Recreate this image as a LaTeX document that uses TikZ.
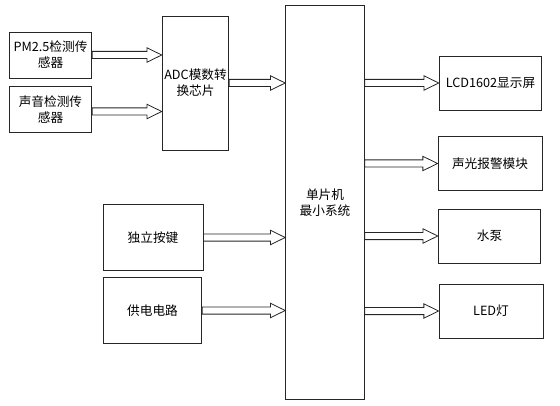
\documentclass[tikz,border=0pt]{standalone}
\usepackage{fontspec}
\setmainfont{Noto Sans CJK SC}
\usetikzlibrary{calc}
\begin{document}
\begin{tikzpicture}
[x=0.75pt,y=-0.75pt,
 box/.style={rectangle,draw=black!85,line width=0.7pt,inner sep=1pt,align=center,font=\fontsize{9.5pt}{12pt}\selectfont},
 blockarrow/.style={draw=black!85,line width=0.6pt,
   to path={let \p1=(\tikztostart), \p2=(\tikztotarget) in
     (\x1,\y1+2.7pt) -- (\x2-11pt,\y1+2.7pt) -- (\x2-11pt,\y1+5.4pt) -- (\x2,\y1)
     -- (\x2-11pt,\y1-5.4pt) -- (\x2-11pt,\y1-2.7pt) -- (\x1,\y1-2.7pt) -- cycle}}]
\useasboundingbox (0,0) rectangle (560,406);
% inputs
\node[box, minimum width=62pt, minimum height=34.5pt] (pm) at (50.5,55) {PM2.5检测传\\感器};
\node[box, minimum width=62pt, minimum height=35pt] (sound) at (50.5,109.5) {声音检测传\\感器};
\node[box, minimum width=50pt, minimum height=100.5pt] (adc) at (195.5,83) {ADC模数转\\换芯片};
\node[box, minimum width=75pt, minimum height=49pt] (key) at (153,237.5) {独立按键};
\node[box, minimum width=74pt, minimum height=49pt] (power) at (152.5,310.5) {供电电路};
% controller
\node[box, minimum width=59pt, minimum height=296pt] (mcu) at (325,202.5) {单片机\\最小系统};
% outputs
\node[box, minimum width=77pt, minimum height=40.5pt] (lcd) at (490.5,83) {LCD1602显示屏};
\node[box, minimum width=78pt, minimum height=40pt] (alarm) at (490,163.5) {声光报警模块};
\node[box, minimum width=77pt, minimum height=40.5pt] (pump) at (489.5,236) {水泵};
\node[box, minimum width=78pt, minimum height=40.5pt] (led) at (491,311) {LED灯};
% arrows
\draw[blockarrow] (pm.east) to (pm.east -| adc.west);
\draw[blockarrow] ([yshift=-1.5pt]sound.east) to ([yshift=-1.5pt]sound.east -| adc.west);
\draw[blockarrow] (adc.east) to (adc.east -| mcu.west);
\draw[blockarrow] (key.east) to (key.east -| mcu.west);
\draw[blockarrow] (power.east) to (power.east -| mcu.west);
\draw[blockarrow] (lcd.west -| mcu.east) to (lcd.west);
\draw[blockarrow] (alarm.west -| mcu.east) to (alarm.west);
\draw[blockarrow] (pump.west -| mcu.east) to (pump.west);
\draw[blockarrow] (led.west -| mcu.east) to (led.west);
\end{tikzpicture}
\end{document}
